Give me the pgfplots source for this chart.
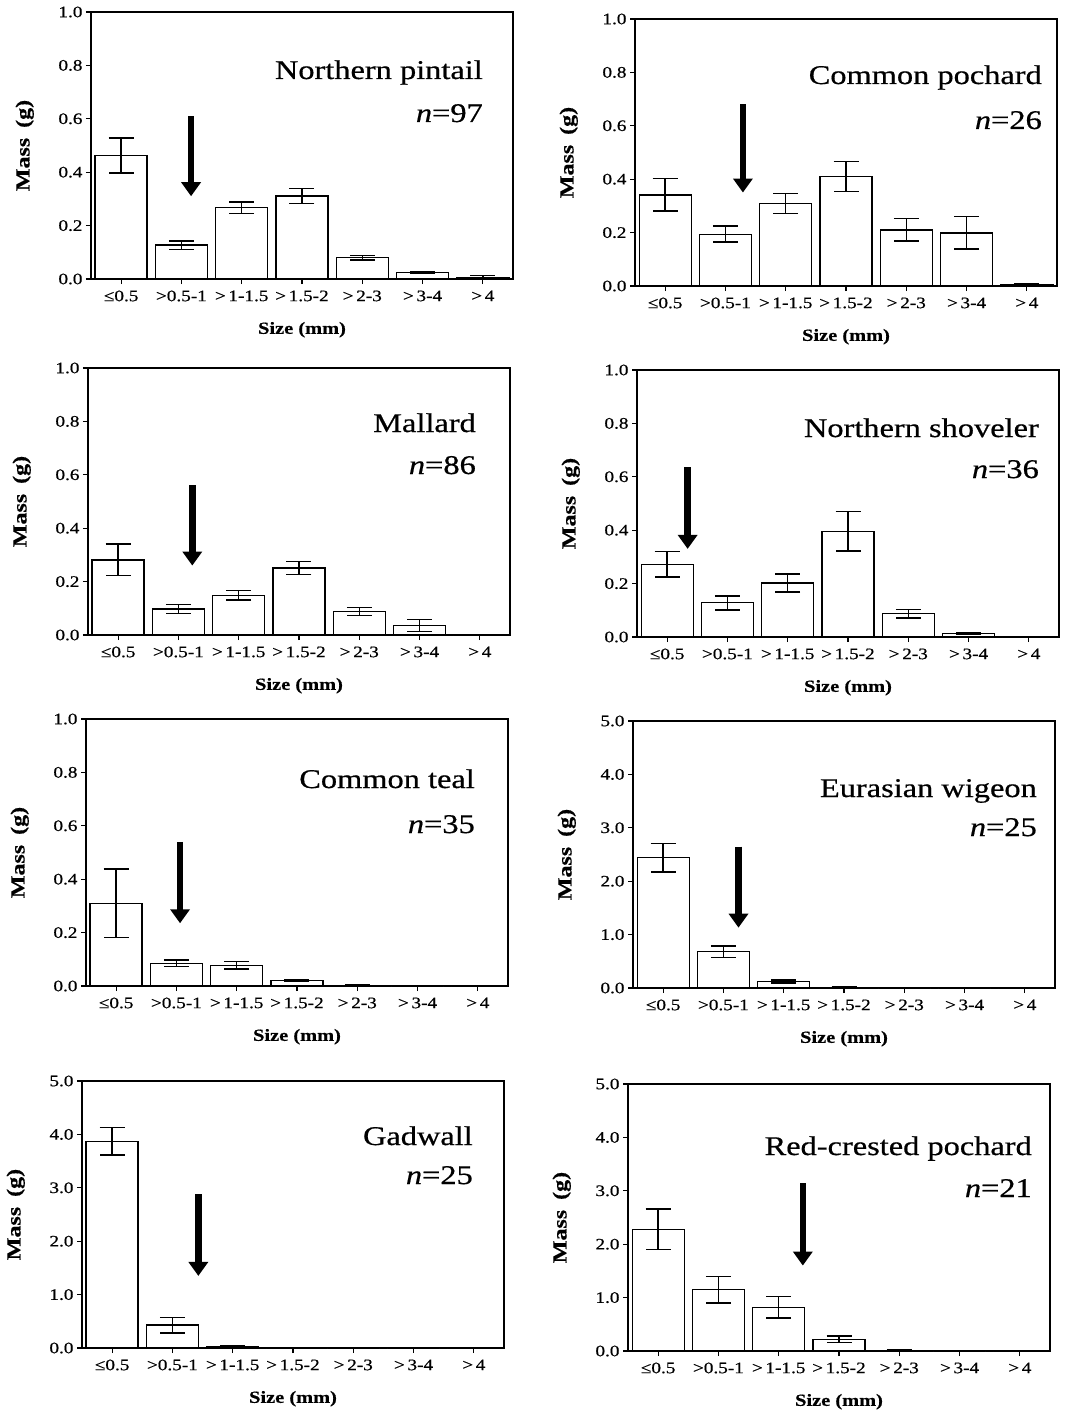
\documentclass[border=0pt]{standalone}
\usepackage{fontspec}
\setmainfont{Liberation Serif}[FakeStretch=1.2, FakeBold=0.6]
\usepackage{pgfplots}
\pgfplotsset{compat=1.18}
\usetikzlibrary{arrows.meta}

\newcommand{\titlefont}{\fontsize{27}{32}\selectfont}
\newcommand{\duckarrow}[3]{\draw[line width=6.5pt,-{Triangle[width=19pt,length=14pt]}] (axis cs:#1,#2) -- (axis cs:#1,#3);}
\newcommand{\ducktitle}[5]{%
  \node[anchor=base east,xshift=-#1pt,yshift=-#2pt,font=\titlefont,inner sep=0pt] at (rel axis cs:1,1) {#4};
  \node[anchor=base east,xshift=-#1pt,yshift=-#3pt,font=\titlefont,inner sep=0pt] at (rel axis cs:1,1) {\textit{n}=#5};}

\pgfplotsset{
  duck/.style={
    scale only axis, width=422pt, height=267pt,
    anchor=south west,
    xmin=-0.5, xmax=6.5, ymin=0,
    xtick={0,...,6},
    xticklabels={≤0.5,>0.5-1,>\,1-1.5,>\,1.5-2,>\,2-3,>\,3-4,>\,4},
    tick align=outside, major tick length=5pt,
    xtick pos=left, ytick pos=left,
    axis line style={line width=1.3pt},
    every tick/.style={black, line width=1.2pt},
    tick label style={font=\fontsize{16}{19}\selectfont},
    xticklabel style={yshift=-3pt},
    yticklabel style={/pgf/number format/.cd, fixed, fixed zerofill, precision=1, assume math mode=true},
    xlabel={Size (mm)}, ylabel={Mass\enspace(g)},
    x label style={font=\bfseries\fontsize{17}{20}\selectfont, at={(axis description cs:0.5,-0.19)}, anchor=center},
    y label style={font=\bfseries\fontsize{20}{24}\selectfont, at={(axis description cs:-0.157,0.5)}, anchor=center},
  },
  small/.style={ymax=1.0, ytick={0,0.2,...,1.0}},
  big/.style={ymax=5.0, ytick={0,1,...,5}},
  bars/.style={ybar, bar width=52pt, fill=white, draw=black, line width=1.3pt,
    error bars/.cd, y dir=both, y explicit,
    error bar style={line width=1.5pt, black},
    error mark options={line width=1.5pt, black, mark size=12.5pt, rotate=90}},
}

\begin{document}
\begin{tikzpicture}
\path[use as bounding box] (0,0) rectangle (1078pt,-1412pt);

% 1 Northern pintail
\begin{axis}[duck, small, at={(91pt,-279pt)}]
\addplot[bars] coordinates {
(0,0.463) +- (0,0.066)
(1,0.127) +- (0,0.016)
(2,0.267) +- (0,0.022)
(3,0.311) +- (0,0.028)
(4,0.080) +- (0,0.008)
(5,0.025) +- (0,0.004)
(6,0.005) +- (0,0.008)
};
\duckarrow{1.16}{0.61}{0.31}
\ducktitle{30}{67}{110}{Northern pintail}{97}
\end{axis}

% 2 Common pochard
\begin{axis}[duck, small, at={(635pt,-286pt)}]
\addplot[bars] coordinates {
(0,0.341) +- (0,0.061)
(1,0.194) +- (0,0.030)
(2,0.309) +- (0,0.038)
(3,0.410) +- (0,0.057)
(4,0.210) +- (0,0.042)
(5,0.199) +- (0,0.061)
(6,0.004) +- (0,0.003)
};
\duckarrow{1.29}{0.68}{0.35}
\ducktitle{15}{65}{110}{Common pochard}{26}
\end{axis}

% 3 Mallard
\begin{axis}[duck, small, at={(88pt,-635pt)}]
\addplot[bars] coordinates {
(0,0.281) +- (0,0.059)
(1,0.097) +- (0,0.017)
(2,0.149) +- (0,0.017)
(3,0.251) +- (0,0.024)
(4,0.088) +- (0,0.015)
(5,0.036) +- (0,0.023)
(6,0) +- (0,0)
};
\duckarrow{1.23}{0.56}{0.26}
\ducktitle{34}{64}{106}{Mallard}{86}
\end{axis}

% 4 Northern shoveler
\begin{axis}[duck, small, at={(637pt,-637pt)}]
\addplot[bars] coordinates {
(0,0.272) +- (0,0.048)
(1,0.128) +- (0,0.026)
(2,0.202) +- (0,0.034)
(3,0.396) +- (0,0.074)
(4,0.087) +- (0,0.016)
(5,0.012) +- (0,0.003)
(6,0) +- (0,0)
};
\duckarrow{0.34}{0.635}{0.33}
\ducktitle{20}{67}{108}{Northern shoveler}{36}
\end{axis}

% 5 Common teal
\begin{axis}[duck, small, at={(86pt,-986pt)}]
\addplot[bars] coordinates {
(0,0.310) +- (0,0.128)
(1,0.085) +- (0,0.012)
(2,0.077) +- (0,0.014)
(3,0.020) +- (0,0.003)
(4,0.002) +- (0,0.001)
(5,0) +- (0,0)
(6,0) +- (0,0)
};
\duckarrow{1.06}{0.54}{0.235}
\ducktitle{33}{69}{114}{Common teal}{35}
\end{axis}

% 6 Eurasian wigeon
\begin{axis}[duck, big, at={(633pt,-988pt)}]
\addplot[bars] coordinates {
(0,2.44) +- (0,0.265)
(1,0.68) +- (0,0.11)
(2,0.12) +- (0,0.03)
(3,0.01) +- (0,0.005)
(4,0) +- (0,0)
(5,0) +- (0,0)
(6,0) +- (0,0)
};
\duckarrow{1.25}{2.65}{1.13}
\ducktitle{18}{76}{115}{Eurasian wigeon}{25}
\end{axis}

% 7 Gadwall
\begin{axis}[duck, big, at={(82pt,-1348pt)}]
\addplot[bars] coordinates {
(0,3.87) +- (0,0.255)
(1,0.43) +- (0,0.145)
(2,0.03) +- (0,0.01)
(3,0) +- (0,0)
(4,0) +- (0,0)
(5,0) +- (0,0)
(6,0) +- (0,0)
};
\duckarrow{1.43}{2.88}{1.35}
\ducktitle{31}{64}{103}{Gadwall}{25}
\end{axis}

% 8 Red-crested pochard
\begin{axis}[duck, big, at={(628pt,-1351pt)}]
\addplot[bars] coordinates {
(0,2.28) +- (0,0.38)
(1,1.15) +- (0,0.25)
(2,0.82) +- (0,0.20)
(3,0.22) +- (0,0.06)
(4,0.01) +- (0,0.005)
(5,0) +- (0,0)
(6,0) +- (0,0)
};
\duckarrow{2.40}{3.14}{1.60}
\ducktitle{18}{71}{113}{Red-crested pochard}{21}
\end{axis}
\end{tikzpicture}
\end{document}
